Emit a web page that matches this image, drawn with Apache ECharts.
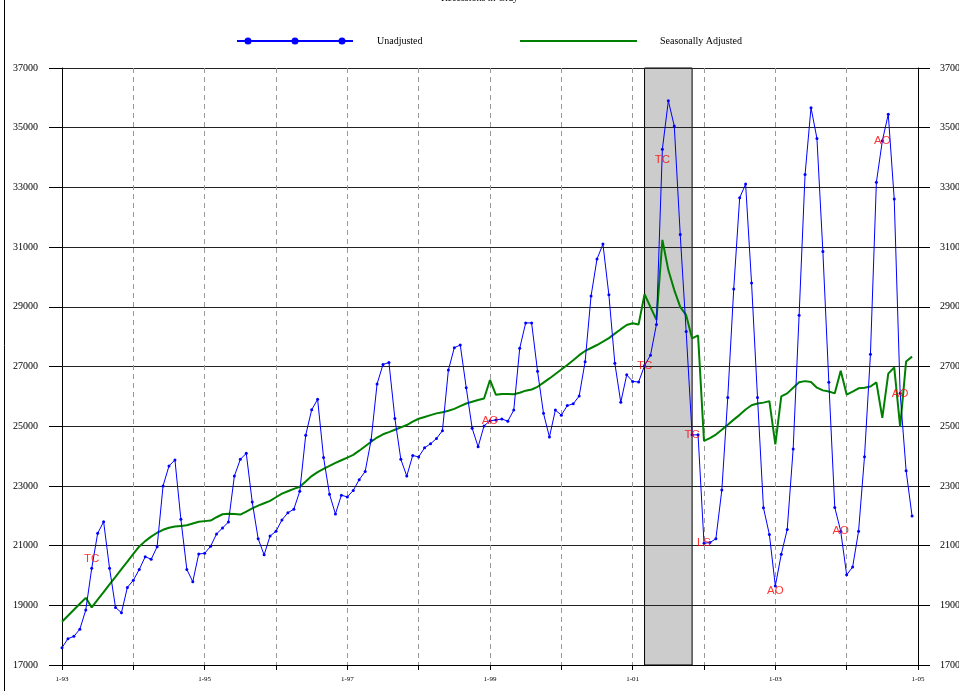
<!DOCTYPE html>
<html>
<head>
<meta charset="utf-8">
<script src="https://cdn.jsdelivr.net/npm/echarts@6/dist/echarts.min.js"></script>
<style>
  html, body { margin: 0; padding: 0; background: #fff; }
  #chart { width: 959px; height: 691px; }
</style>
</head>
<body>
<div id="chart"></div>
<script>
// Monthly employment series, Jan 1993 - Dec 2004
const unadjusted1993 = [17580, 17880, 17960, 18200, 18840, 20240, 21410, 21800, 20240, 18930, 18750, 19600];
const unadjusted1994 = [19840, 20200, 20630, 20540, 20960, 23000, 23670, 23870, 21880, 20200, 19790, 20720];
const unadjusted1995 = [20740, 20980, 21390, 21590, 21790, 23330, 23890, 24090, 22460, 21230, 20690, 21320];
const unadjusted1996 = [21480, 21860, 22100, 22220, 22820, 24700, 25550, 25900, 23950, 22720, 22060, 22690];
const unadjusted1997 = [22630, 22850, 23210, 23480, 24540, 26410, 27070, 27130, 25260, 23890, 23330, 24020];
const unadjusted1998 = [23970, 24280, 24410, 24590, 24850, 26880, 27630, 27720, 26290, 24930, 24310, 25010];
const unadjusted1999 = [25180, 25210, 25240, 25170, 25540, 27610, 28460, 28460, 26840, 25430, 24640, 25540];
const unadjusted2000 = [25370, 25690, 25750, 26010, 27160, 29360, 30600, 31100, 29400, 27110, 25800, 26720];
const unadjusted2001 = [26500, 26480, 27030, 27380, 28410, 34280, 35900, 35060, 31420, 28170, 24710, 24710];
const unadjusted2002 = [21080, 21100, 21230, 22860, 25960, 29600, 32650, 33110, 29800, 25960, 22270, 21370];
const unadjusted2003 = [19650, 20710, 21540, 24240, 28720, 33430, 35670, 34640, 30850, 26470, 22280, 21480];
const unadjusted2004 = [20020, 20280, 21480, 23980, 27410, 33170, 34560, 35450, 32610, 26100, 23510, 21990];

const adjusted1993 = [18450, 18650, 18850, 19050, 19250, 18930, 19190, 19440, 19700, 19950, 20210, 20460];
const adjusted1994 = [20720, 20970, 21150, 21300, 21430, 21530, 21600, 21640, 21660, 21680, 21740, 21800];
const adjusted1995 = [21820, 21840, 21950, 22050, 22070, 22060, 22040, 22140, 22250, 22340, 22420, 22500];
const adjusted1996 = [22620, 22740, 22820, 22900, 22970, 23150, 23330, 23460, 23570, 23670, 23770, 23860];
const adjusted1997 = [23950, 24040, 24180, 24330, 24480, 24620, 24730, 24800, 24880, 24960, 25040, 25150];
const adjusted1998 = [25250, 25310, 25370, 25430, 25470, 25520, 25580, 25670, 25760, 25820, 25880, 25930];
const adjusted1999 = [26550, 26050, 26080, 26080, 26070, 26120, 26190, 26230, 26320, 26460, 26600, 26750];
const adjusted2000 = [26900, 27050, 27210, 27380, 27520, 27620, 27720, 27830, 27950, 28100, 28250, 28390];
const adjusted2001 = [28450, 28410, 29420, 28990, 28560, 31240, 30230, 29560, 29000, 28720, 27940, 28040];
const adjusted2002 = [24510, 24600, 24720, 24880, 25050, 25220, 25380, 25560, 25700, 25760, 25790, 25840];
const adjusted2003 = [24390, 26000, 26100, 26290, 26470, 26510, 26480, 26290, 26200, 26160, 26100, 26860];
const adjusted2004 = [26060, 26160, 26270, 26290, 26330, 26470, 25280, 26760, 26970, 24980, 27170, 27330];

const tickLabels = ['1-93', '1-95', '1-97', '1-99', '1-01', '1-03', '1-05'];

// Recession period (NBER), month labels
const recessionStart = '3-01';
const recessionEnd = '11-01';

// Outliers detected in the unadjusted series: month label and type
const outlierMonths = ['6-93', '1-99', '3-01', '6-01', '11-01', '1-02', '1-03', '12-03', '7-04', '10-04'];
const outlierTypes  = ['TC',   'AO',   'TC',   'TC',   'TC',    'LS',   'AO',   'AO',    'AO',   'AO'];

const unadjusted = [].concat(unadjusted1993, unadjusted1994, unadjusted1995, unadjusted1996,
  unadjusted1997, unadjusted1998, unadjusted1999, unadjusted2000, unadjusted2001,
  unadjusted2002, unadjusted2003, unadjusted2004);
const adjusted = [].concat(adjusted1993, adjusted1994, adjusted1995, adjusted1996,
  adjusted1997, adjusted1998, adjusted1999, adjusted2000, adjusted2001,
  adjusted2002, adjusted2003, adjusted2004);

// month-year category labels, "m-yy", from Jan 1993 through Jan 2005
const months = [];
for (let y = 1993; y <= 2005; y++) {
  for (let m = 1; m <= 12; m++) {
    if (y === 2005 && m > 1) break;
    months.push(m + '-' + String(y % 100).padStart(2, '0'));
  }
}

// small vertical nudges for a few outlier tags (pixels)
const tagNudge = { '6-93': -9, '6-01': 11, '1-03': 5 };

const outlierData = outlierMonths.map((mon, k) => {
  const idx = months.indexOf(mon);
  return {
    name: outlierTypes[k],
    value: [mon, unadjusted[idx]],
    label: { offset: [0, tagNudge[mon] || 0] }
  };
});

const serif = 'Liberation Serif, Times New Roman, serif';
const blueIcon = 'path://M0,2.5H116V4.5H0Z M7.5,3.5A3.5,3.5 0 1,1 14.5,3.5A3.5,3.5 0 1,1 7.5,3.5Z ' +
  'M54.5,3.5A3.5,3.5 0 1,1 61.5,3.5A3.5,3.5 0 1,1 54.5,3.5Z M101.5,3.5A3.5,3.5 0 1,1 108.5,3.5A3.5,3.5 0 1,1 101.5,3.5Z';
const greenIcon = 'path://M0,0H117V2H0Z';

const plainNumber = (v) => String(v);

const chart = echarts.init(document.getElementById('chart'), null, { renderer: 'canvas' });

chart.setOption({
  backgroundColor: '#ffffff',
  animation: false,
  graphic: [
    {
      type: 'text', left: 'center', top: -7, z: 10,
      style: { text: 'Recessions in Gray', font: '10px ' + serif, fill: '#000' }
    },
    {
      type: 'line', z: 10,
      shape: { x1: 4.5, y1: 0, x2: 4.5, y2: 691 },
      style: { stroke: '#000', lineWidth: 1 }
    }
  ],
  legend: [
    {
      left: 237, top: 36, padding: 0, itemGap: 0, selectedMode: false,
      itemWidth: 116, itemHeight: 7,
      itemStyle: { borderWidth: 0 },
      textStyle: { fontFamily: serif, fontSize: 10, color: '#000', padding: [0, 0, 0, 19] },
      data: [{ name: 'Unadjusted', icon: blueIcon }]
    },
    {
      left: 520, top: 36, padding: 0, itemGap: 0, selectedMode: false,
      itemWidth: 117, itemHeight: 2,
      itemStyle: { borderWidth: 0 },
      textStyle: { fontFamily: serif, fontSize: 10, color: '#000', padding: [0, 0, 0, 18] },
      data: [{ name: 'Seasonally Adjusted', icon: greenIcon }]
    }
  ],
  grid: { left: 62, right: 41, top: 68, bottom: 26, containLabel: false, outerBoundsMode: 'none' },
  xAxis: {
    type: 'category',
    data: months,
    boundaryGap: false,
    z: 1.5,
    axisLine: { lineStyle: { color: '#000', width: 1 } },
    axisTick: { interval: 11, length: 5, lineStyle: { color: '#000' } },
    axisLabel: {
      interval: (i, v) => tickLabels.includes(v),
      fontFamily: serif, fontSize: 7, color: '#000', margin: 11
    },
    splitLine: { show: true, interval: 11, lineStyle: { color: '#999', type: [5, 4], width: 1 } }
  },
  yAxis: [
    {
      type: 'value', position: 'left', min: 17000, max: 37000, interval: 2000, z: 1.5,
      axisLine: { show: true, lineStyle: { color: '#000', width: 1 } },
      axisTick: { show: true, length: 13, lineStyle: { color: '#000' } },
      axisLabel: { fontFamily: serif, fontSize: 10, color: '#000', margin: 24, formatter: plainNumber },
      splitLine: { show: true, lineStyle: { color: '#222', width: 1 } }
    },
    {
      type: 'value', position: 'right', min: 17000, max: 37000, interval: 2000, z: 1.5,
      axisLine: { show: true, lineStyle: { color: '#000', width: 1 } },
      axisTick: { show: true, length: 12, lineStyle: { color: '#000' } },
      axisLabel: { fontFamily: serif, fontSize: 10, color: '#000', margin: 22, formatter: plainNumber },
      splitLine: { show: false }
    }
  ],
  series: [
    {
      name: 'Recessions',
      type: 'line',
      z: 1,
      data: [],
      markArea: {
        silent: true,
        itemStyle: { color: '#cccccc', borderColor: '#000', borderWidth: 1 },
        data: [[{ xAxis: recessionStart }, { xAxis: recessionEnd }]]
      }
    },
    {
      name: 'Seasonally Adjusted',
      type: 'line',
      z: 3,
      data: adjusted,
      showSymbol: false,
      symbol: 'none',
      color: '#008000',
      lineStyle: { color: '#008000', width: 2 }
    },
    {
      name: 'Unadjusted',
      type: 'line',
      z: 4,
      data: unadjusted,
      symbol: 'circle',
      symbolSize: 3,
      showAllSymbol: true,
      color: '#0000ff',
      itemStyle: { color: '#0000ff', borderWidth: 0 },
      lineStyle: { color: '#0000ff', width: 1 }
    },
    {
      name: 'Outliers',
      type: 'scatter',
      z: 5,
      symbolSize: 1,
      itemStyle: { color: 'rgba(0,0,0,0)' },
      label: {
        show: true, position: 'inside',
        formatter: (p) => p.name,
        color: '#ff0000', fontSize: 11.5,
        fontFamily: 'Liberation Sans, Arial, sans-serif'
      },
      data: outlierData
    }
  ]
});
</script>
</body>
</html>
